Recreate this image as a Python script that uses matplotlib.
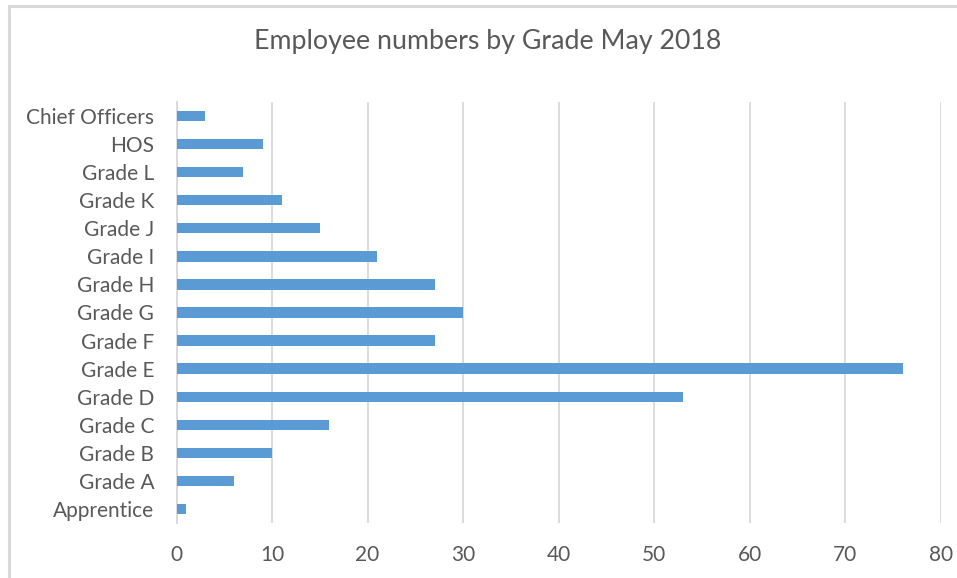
import matplotlib.pyplot as plt
from matplotlib.patches import Rectangle

# data (bottom to top as drawn)
grades = ["Apprentice", "Grade A", "Grade B", "Grade C", "Grade D", "Grade E",
          "Grade F", "Grade G", "Grade H", "Grade I", "Grade J", "Grade K",
          "Grade L", "HOS", "Chief Officers"]
counts = [1, 6, 10, 16, 53, 76, 27, 30, 27, 21, 15, 11, 7, 9, 3]
xticks = [0, 10, 20, 30, 40, 50, 60, 70, 80]

bar_color = "#5b9bd5"
text_color = "#595959"
grid_color = "#d9d9d9"

plt.rcParams['font.family'] = ['Lato', 'DejaVu Sans']

fig = plt.figure(figsize=(9.57, 5.78), dpi=100)
W, H = 957, 578

# chart border (cropped on right and bottom)
fig.patches.append(Rectangle((9 / W, -0.1), 1.2, 1.1 - 6 / H,
                             transform=fig.transFigure, fill=False,
                             edgecolor=grid_color, linewidth=2.2))

ax = fig.add_axes([176.5 / W, 1 - 523 / H, (941 - 176.5) / W, (523 - 102) / H])
pos = list(range(len(grades)))
ax.barh(pos, counts, height=0.37, color=bar_color, zorder=3)

ax.set_xlim(0, 80)
ax.set_ylim(-0.5, len(grades) - 0.5)
ax.set_xticks(xticks)
ax.set_yticks(pos)
ax.set_yticklabels(grades)
ax.tick_params(axis='both', length=0, colors=text_color, labelsize=15)
ax.tick_params(axis='x', pad=16)
ax.tick_params(axis='y', pad=16)
ax.grid(axis='x', color=grid_color, linewidth=1.3, zorder=0)
for s in ['top', 'right', 'bottom']:
    ax.spines[s].set_visible(False)
ax.spines['left'].set_color(grid_color)
ax.spines['left'].set_linewidth(1.3)

fig.text(488 / W, 1 - 41 / H, "Employee numbers by Grade May 2018",
         ha='center', va='center', fontsize=19.3, color=text_color)

fig.savefig("out.png", dpi=100)
